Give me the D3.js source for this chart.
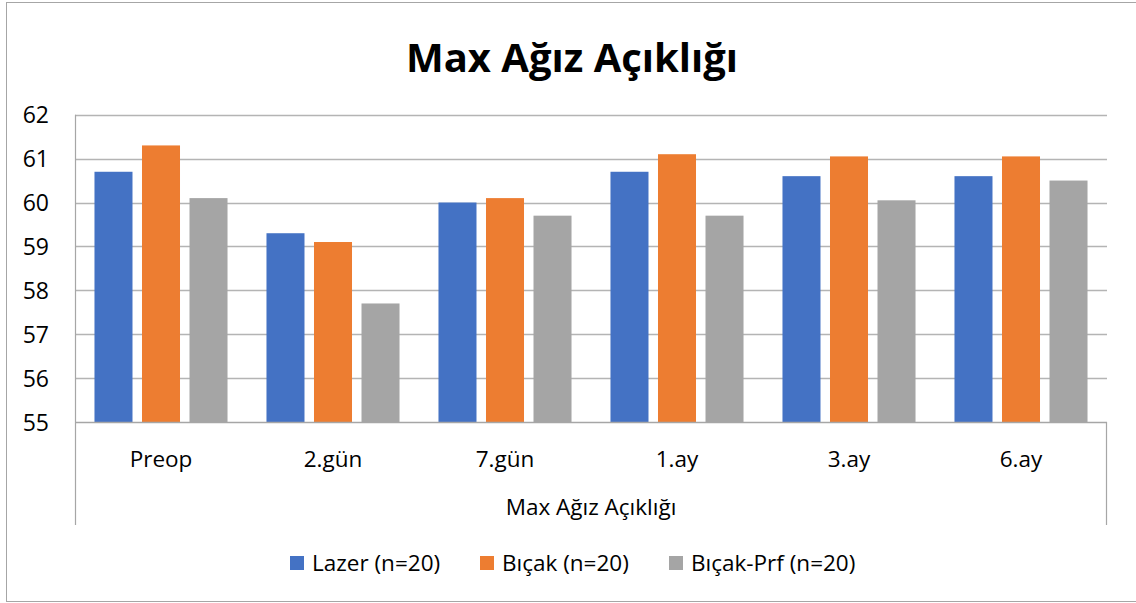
<!DOCTYPE html>
<html><head><meta charset="utf-8">
<script src="https://cdn.jsdelivr.net/npm/d3@7"></script>
<style>body{margin:0;background:#fff}svg{display:block}text{font-family:"Open Sans",sans-serif;fill:#000}</style>
</head><body><svg id="c" width="1136" height="603"></svg>
<script>
const categories = ["Preop","2.gün","7.gün","1.ay","3.ay","6.ay"];
const seriesNames = ["Lazer (n=20)","Bıçak (n=20)","Bıçak-Prf (n=20)"];
const lazer = [60.7,59.3,60.0,60.7,60.6,60.6];
const bicak = [61.3,59.1,60.1,61.1,61.05,61.05];
const bicakPrf = [60.1,57.7,59.7,59.7,60.05,60.5];
const yTicks = [55,56,57,58,59,60,61,62];
const title = "Max Ağız Açıklığı";
const xTitle = "Max Ağız Açıklığı";
const colors = ["#4472C4","#ED7D31","#A5A5A5"];
const values = [lazer,bicak,bicakPrf];

const svg = d3.select("#c");
svg.append("rect").attr("x",6.5).attr("y",2.5).attr("width",1140).attr("height",599)
  .attr("fill","#fff").attr("stroke","#a6a6a6").attr("stroke-width",1);

const L=75,R=1107,T=114.7,B=422;
const x0 = d3.scaleBand().domain(categories).range([L,R]).padding(0);
const x1 = d3.scaleBand().domain(seriesNames).range([0,x0.bandwidth()]).paddingInner(0.2).paddingOuter(0.41);
const y = d3.scaleLinear().domain([55,62]).range([B,T]);

// gridlines
svg.append("g").selectAll("line").data(yTicks.filter(d=>d>55)).join("line")
  .attr("x1",L).attr("x2",R).attr("y1",d=>Math.round(y(d))+0.5).attr("y2",d=>Math.round(y(d))+0.5)
  .attr("stroke","#b4b4b4").attr("stroke-width",1.3);

// bars
const g = svg.append("g");
seriesNames.forEach((s,si)=>{
  g.append("g").selectAll("rect").data(categories).join("rect")
    .attr("x",(c)=>x0(c)+x1(s)).attr("width",x1.bandwidth())
    .attr("y",(c,i)=>y(values[si][i])).attr("height",(c,i)=>B-y(values[si][i]))
    .attr("fill",colors[si]);
});

// axes lines
svg.append("line").attr("x1",L+0.5).attr("x2",L+0.5).attr("y1",T).attr("y2",525).attr("stroke","#a6a6a6").attr("stroke-width",1.2);
svg.append("line").attr("x1",R-0.5).attr("x2",R-0.5).attr("y1",B).attr("y2",525).attr("stroke","#a6a6a6").attr("stroke-width",1.2);
svg.append("line").attr("x1",L).attr("x2",R).attr("y1",B+0.5).attr("y2",B+0.5).attr("stroke","#a6a6a6").attr("stroke-width",1.3);

// y labels
const yAxis = d3.axisLeft(y).tickValues(yTicks).tickSize(0).tickPadding(0).tickFormat(d3.format("d"));
const ya = svg.append("g").attr("transform",`translate(49,0)`).call(yAxis);
ya.select(".domain").remove();
ya.selectAll("text").style("font-family","Open Sans").style("font-size","23px").attr("fill","#000").attr("dy","0.35em");

// x labels
const xAxis = d3.axisBottom(x0).tickSize(0).tickPadding(0);
const xa = svg.append("g").attr("transform",`translate(0,0)`).call(xAxis);
xa.select(".domain").remove();
xa.selectAll("text").attr("y",467).attr("dy",0).style("font-family","Open Sans").style("font-size","22.5px").attr("fill","#000");

// titles
svg.append("text").attr("x",572).attr("y",72).attr("text-anchor","middle")
  .style("font-size","40px").style("font-weight","bold").text(title);
svg.append("text").attr("x",591).attr("y",515).attr("text-anchor","middle")
  .style("font-size","22.5px").text(xTitle);

// legend
const legX = [290,480,669];
const lg = svg.append("g");
seriesNames.forEach((s,i)=>{
  lg.append("rect").attr("x",legX[i]).attr("y",556).attr("width",14).attr("height",14).attr("fill",colors[i]);
  lg.append("text").attr("x",legX[i]+22).attr("y",571).style("font-size","22.5px").text(s);
});
</script></body></html>
